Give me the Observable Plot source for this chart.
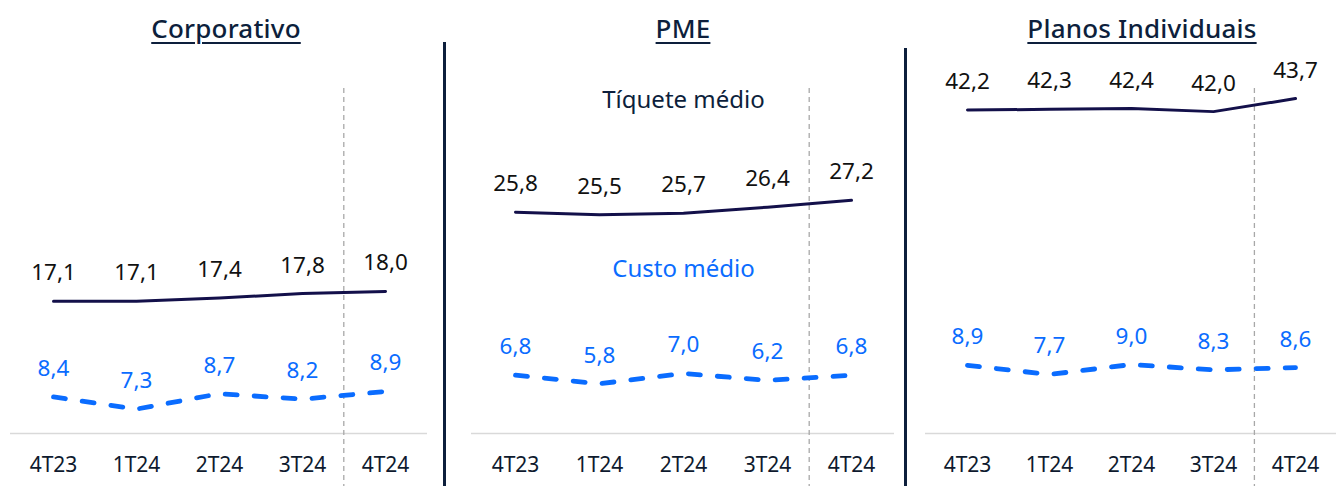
<!DOCTYPE html>
<html>
<head>
<meta charset="utf-8">
<script src="https://cdn.jsdelivr.net/npm/d3@7"></script>
<script src="https://cdn.jsdelivr.net/npm/@observablehq/plot@0.6"></script>
<style>
  html, body { margin: 0; padding: 0; background: #fff; overflow: hidden; }
  #root { position: relative; width: 1336px; height: 486px; font-family: "Noto Sans", sans-serif; }
  .panel { position: absolute; top: 0; }
  .title { position: absolute; top: 15px; width: 400px; text-align: center; font-size: 26px; line-height: 26px;
           font-weight: 500; color: #0d1f3c; text-decoration: underline; text-decoration-thickness: 2px;
           text-underline-offset: 4px; white-space: nowrap; letter-spacing: 0.2px; }
  .sep { position: absolute; width: 3px; background: #0d1f3c; bottom: 0; }
</style>
</head>
<body>
<div id="root"></div>
<script>
// ---- data ----
const categories = ["4T23", "1T24", "2T24", "3T24", "4T24"];
const panelTitles = ["Corporativo", "PME", "Planos Individuais"];
const seriesNames = ["Tíquete médio", "Custo médio"];

const corpTicket = [17.1, 17.1, 17.4, 17.8, 18.0];
const corpCusto  = [8.4, 7.3, 8.7, 8.2, 8.9];
const pmeTicket  = [25.8, 25.5, 25.7, 26.4, 27.2];
const pmeCusto   = [6.8, 5.8, 7.0, 6.2, 6.8];
const indTicket  = [42.2, 42.3, 42.4, 42.0, 43.7];
const indCusto   = [8.9, 7.7, 9.0, 8.3, 8.6];

// ---- layout ----
const H = 486, BASE = 433, TOP = 88;
const NAVY = "#13104a", BLUE = "#0a6cff", INK = "#111111", AXIS = "#0e1a2e";
const fmt = v => d3.format(".1f")(v).replace(".", ",");

const panels = [
  {title: panelTitles[0], ticket: corpTicket, custo: corpCusto, left: 0,   width: 443, ml: 10, mr: 16, yDomain: [5.08, 44.45], titleX: 226, legend: false},
  {title: panelTitles[1], ticket: pmeTicket,  custo: pmeCusto,  left: 447, width: 456, ml: 24, mr: 9,  yDomain: [0, 50.5],     titleX: 683, legend: true},
  {title: panelTitles[2], ticket: indTicket,  custo: indCusto,  left: 908, width: 428, ml: 17, mr: 0,  yDomain: [0, 56.5],     titleX: 1142, legend: false}
];

const root = document.getElementById("root");

for (const p of panels) {
  const tData = categories.map((c, i) => ({cat: c, v: p.ticket[i]}));
  const cData = categories.map((c, i) => ({cat: c, v: p.custo[i]}));
  const step = (p.width - p.ml - p.mr) / categories.length;

  const marks = [
    Plot.ruleY([p.yDomain[0]], {stroke: "#d9d9d9", strokeWidth: 1.5}),
    Plot.ruleX([categories[categories.length - 1]], {dx: -step / 2, stroke: "#a8a8a8", strokeWidth: 1.3,
      strokeDasharray: "5,4", insetBottom: -(H - BASE)}),
    Plot.axisX({tickSize: 0, tickPadding: 24, fontSize: 21, color: AXIS, label: null}),
    Plot.line(tData, {x: "cat", y: "v", stroke: NAVY, strokeWidth: 3, curve: "linear"}),
    Plot.line(cData, {x: "cat", y: "v", stroke: BLUE, strokeWidth: 4.8, curve: "linear",
      strokeDasharray: "12,17", strokeLinecap: "round"}),
    Plot.text(tData, {x: "cat", y: "v", text: d => fmt(d.v), dy: -21, lineAnchor: "bottom", fill: INK, fontSize: 22.5}),
    Plot.text(cData, {x: "cat", y: "v", text: d => fmt(d.v), dy: -21, lineAnchor: "bottom", fill: BLUE, fontSize: 22.5})
  ];
  if (p.legend) {
    marks.push(Plot.text([seriesNames[0]], {x: () => categories[2], text: d => d, frameAnchor: "top",
      lineAnchor: "bottom", dy: 107 - TOP, fill: "#0d1f3c", fontSize: 24}));
    marks.push(Plot.text([seriesNames[1]], {x: () => categories[2], text: d => d, frameAnchor: "top",
      lineAnchor: "bottom", dy: 276 - TOP, fill: BLUE, fontSize: 24}));
  }

  const chart = Plot.plot({
    width: p.width,
    height: H,
    marginLeft: p.ml,
    marginRight: p.mr,
    marginTop: TOP,
    marginBottom: H - BASE,
    style: {fontFamily: "Noto Sans", fontSize: "21px", background: "transparent", overflow: "visible"},
    x: {type: "point", domain: categories, padding: 0.5},
    y: {domain: p.yDomain, range: [BASE, 0], axis: null},
    marks
  });
  const wrap = document.createElement("div");
  wrap.className = "panel";
  wrap.style.left = p.left + "px";
  wrap.appendChild(chart);
  root.appendChild(wrap);

  const t = document.createElement("div");
  t.className = "title";
  t.style.left = (p.titleX - 200) + "px";
  t.textContent = p.title;
  root.appendChild(t);
}

// panel separators
[[443, 42], [904, 48]].forEach(([x, top]) => {
  const s = document.createElement("div");
  s.className = "sep";
  s.style.left = x + "px";
  s.style.top = top + "px";
  root.appendChild(s);
});
</script>
</body>
</html>
